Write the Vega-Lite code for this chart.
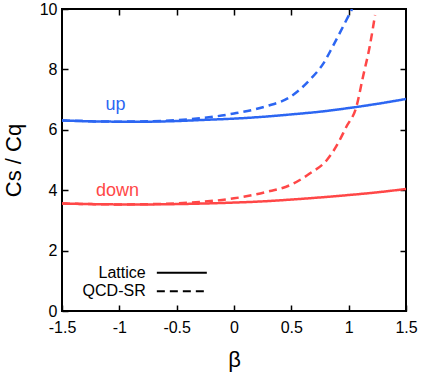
{
  "$schema": "https://vega.github.io/schema/vega-lite/v6.json",
  "autosize": "none",
  "width": 344,
  "height": 302,
  "padding": {"left": 62, "top": 9, "right": 15, "bottom": 70},
  "config": {
    "view": {"stroke": "#000", "strokeWidth": 2},
    "font": "Liberation Sans",
    "axis": {"domain": false, "grid": false, "tickColor": "#000", "tickWidth": 1.5, "tickSize": -6, "labelColor": "#000", "labelFontSize": 16, "labelFont": "Liberation Sans", "titleFont": "Liberation Sans", "titleFontWeight": "normal", "titleColor": "#000"}
  },
  "datasets": {
    "curves": [
      {"beta": -1.5, "value": 6.31, "series": "up", "method": "Lattice"},
      {"beta": -1.25, "value": 6.28, "series": "up", "method": "Lattice"},
      {"beta": -1.0, "value": 6.27, "series": "up", "method": "Lattice"},
      {"beta": -0.75, "value": 6.27, "series": "up", "method": "Lattice"},
      {"beta": -0.5, "value": 6.29, "series": "up", "method": "Lattice"},
      {"beta": -0.25, "value": 6.33, "series": "up", "method": "Lattice"},
      {"beta": 0.0, "value": 6.37, "series": "up", "method": "Lattice"},
      {"beta": 0.25, "value": 6.43, "series": "up", "method": "Lattice"},
      {"beta": 0.5, "value": 6.51, "series": "up", "method": "Lattice"},
      {"beta": 0.75, "value": 6.6, "series": "up", "method": "Lattice"},
      {"beta": 1.0, "value": 6.72, "series": "up", "method": "Lattice"},
      {"beta": 1.25, "value": 6.86, "series": "up", "method": "Lattice"},
      {"beta": 1.5, "value": 7.02, "series": "up", "method": "Lattice"},
      {"beta": -1.5, "value": 6.31, "series": "up", "method": "QCD-SR"},
      {"beta": -1.0, "value": 6.27, "series": "up", "method": "QCD-SR"},
      {"beta": -0.6, "value": 6.3, "series": "up", "method": "QCD-SR"},
      {"beta": -0.3, "value": 6.38, "series": "up", "method": "QCD-SR"},
      {"beta": 0.0, "value": 6.54, "series": "up", "method": "QCD-SR"},
      {"beta": 0.28, "value": 6.78, "series": "up", "method": "QCD-SR"},
      {"beta": 0.49, "value": 7.09, "series": "up", "method": "QCD-SR"},
      {"beta": 0.66, "value": 7.65, "series": "up", "method": "QCD-SR"},
      {"beta": 0.78, "value": 8.2, "series": "up", "method": "QCD-SR"},
      {"beta": 0.86, "value": 8.75, "series": "up", "method": "QCD-SR"},
      {"beta": 0.95, "value": 9.41, "series": "up", "method": "QCD-SR"},
      {"beta": 1.03, "value": 10.0, "series": "up", "method": "QCD-SR"},
      {"beta": -1.5, "value": 3.56, "series": "down", "method": "Lattice"},
      {"beta": -1.25, "value": 3.54, "series": "down", "method": "Lattice"},
      {"beta": -1.0, "value": 3.53, "series": "down", "method": "Lattice"},
      {"beta": -0.75, "value": 3.53, "series": "down", "method": "Lattice"},
      {"beta": -0.5, "value": 3.54, "series": "down", "method": "Lattice"},
      {"beta": -0.25, "value": 3.56, "series": "down", "method": "Lattice"},
      {"beta": 0.0, "value": 3.59, "series": "down", "method": "Lattice"},
      {"beta": 0.25, "value": 3.63, "series": "down", "method": "Lattice"},
      {"beta": 0.5, "value": 3.69, "series": "down", "method": "Lattice"},
      {"beta": 0.75, "value": 3.76, "series": "down", "method": "Lattice"},
      {"beta": 1.0, "value": 3.84, "series": "down", "method": "Lattice"},
      {"beta": 1.25, "value": 3.93, "series": "down", "method": "Lattice"},
      {"beta": 1.5, "value": 4.04, "series": "down", "method": "Lattice"},
      {"beta": -1.5, "value": 3.56, "series": "down", "method": "QCD-SR"},
      {"beta": -1.0, "value": 3.53, "series": "down", "method": "QCD-SR"},
      {"beta": -0.6, "value": 3.55, "series": "down", "method": "QCD-SR"},
      {"beta": -0.3, "value": 3.61, "series": "down", "method": "QCD-SR"},
      {"beta": 0.0, "value": 3.73, "series": "down", "method": "QCD-SR"},
      {"beta": 0.28, "value": 3.94, "series": "down", "method": "QCD-SR"},
      {"beta": 0.49, "value": 4.17, "series": "down", "method": "QCD-SR"},
      {"beta": 0.66, "value": 4.55, "series": "down", "method": "QCD-SR"},
      {"beta": 0.81, "value": 5.0, "series": "down", "method": "QCD-SR"},
      {"beta": 0.89, "value": 5.44, "series": "down", "method": "QCD-SR"},
      {"beta": 0.98, "value": 6.1, "series": "down", "method": "QCD-SR"},
      {"beta": 1.067, "value": 6.76, "series": "down", "method": "QCD-SR"},
      {"beta": 1.125, "value": 7.76, "series": "down", "method": "QCD-SR"},
      {"beta": 1.183, "value": 8.75, "series": "down", "method": "QCD-SR"},
      {"beta": 1.23, "value": 9.8, "series": "down", "method": "QCD-SR"}
    ],
    "labels": [
      {"label": "up", "series": "up", "beta": -1.033, "value": 6.64},
      {"label": "down", "series": "down", "beta": -1.016, "value": 3.8}
    ],
    "legend": [
      {"method": "Lattice", "x1": -0.673, "x2": -0.237, "xt": -0.77, "y": 1.27},
      {"method": "QCD-SR", "x1": -0.673, "x2": -0.237, "xt": -0.77, "y": 0.65}
    ]
  },
  "layer": [
    {
      "data": {"name": "curves"},
      "mark": {"type": "line", "strokeWidth": 2.5, "clip": true, "interpolate": "monotone"},
      "encoding": {
        "x": {"field": "beta", "type": "quantitative", "scale": {"domain": [-1.5, 1.5], "nice": false}, "axis": {"orient": "bottom", "values": [-1.5, -1, -0.5, 0, 0.5, 1, 1.5], "title": "β", "titleFontSize": 22, "titlePadding": 14, "labelPadding": 14, "labelFlush": false, "labelExpr": "datum.value"}},
        "y": {"field": "value", "type": "quantitative", "scale": {"domain": [0, 10], "nice": false}, "axis": {"orient": "left", "values": [0, 2, 4, 6, 8, 10], "title": "Cs / Cq", "titleFontSize": 22, "titlePadding": 14, "labelPadding": 11, "labelFlush": false}},
        "color": {"field": "series", "type": "nominal", "scale": {"domain": ["up", "down"], "range": ["#2c66f2", "#ff4747"]}, "legend": null},
        "strokeDash": {"field": "method", "type": "nominal", "scale": {"domain": ["Lattice", "QCD-SR"], "range": [[1, 0], [8, 5]]}, "legend": null},
        "order": {"field": "beta", "type": "quantitative"}
      }
    },
    {
      "data": {"name": "labels"},
      "mark": {"type": "text", "fontSize": 18, "align": "center", "baseline": "alphabetic"},
      "encoding": {
        "x": {"field": "beta", "type": "quantitative", "axis": {"orient": "top", "values": [-1, -0.5, 0, 0.5, 1], "labels": false, "title": null}},
        "y": {"field": "value", "type": "quantitative", "axis": {"orient": "right", "values": [2, 4, 6, 8], "labels": false, "title": null}},
        "text": {"field": "label"},
        "color": {"field": "series", "type": "nominal", "legend": null}
      }
    },
    {
      "data": {"name": "legend"},
      "mark": {"type": "rule", "color": "#000", "strokeWidth": 2},
      "encoding": {
        "x": {"field": "x1", "type": "quantitative", "axis": null},
        "x2": {"field": "x2"},
        "y": {"field": "y", "type": "quantitative", "axis": null},
        "strokeDash": {"field": "method", "type": "nominal", "legend": null}
      }
    },
    {
      "data": {"name": "legend"},
      "mark": {"type": "text", "fontSize": 16, "align": "right", "baseline": "middle", "color": "#000"},
      "encoding": {
        "x": {"field": "xt", "type": "quantitative", "axis": null},
        "y": {"field": "y", "type": "quantitative", "axis": null},
        "text": {"field": "method"}
      }
    }
  ],
  "resolve": {"axis": {"x": "independent", "y": "independent"}}
}
